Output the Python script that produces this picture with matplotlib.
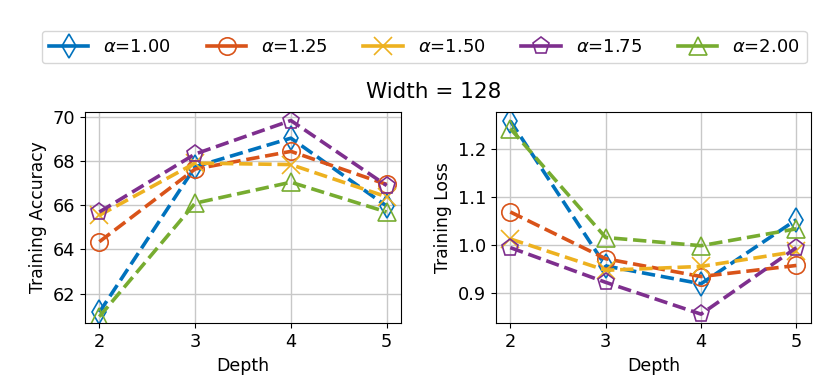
import matplotlib
matplotlib.use("Agg")
import matplotlib.pyplot as plt
from matplotlib.lines import Line2D

depth = [2, 3, 4, 5]
alphas = ["1.00", "1.25", "1.50", "1.75", "2.00"]
colors = ["#0072BD", "#D95319", "#EDB120", "#7E2F8E", "#77AC30"]
markers = ["d", "o", "x", "p", "^"]

acc_100 = [61.15, 67.75, 69.05, 65.97]
acc_125 = [64.35, 67.65, 68.45, 66.95]
acc_150 = [65.55, 67.92, 67.85, 66.39]
acc_175 = [65.7, 68.33, 69.85, 66.9]
acc_200 = [60.95, 66.1, 67.05, 65.7]

loss_100 = [1.258, 0.957, 0.92, 1.053]
loss_125 = [1.069, 0.972, 0.935, 0.958]
loss_150 = [1.013, 0.948, 0.956, 0.987]
loss_175 = [0.995, 0.923, 0.857, 0.995]
loss_200 = [1.242, 1.016, 0.999, 1.034]

acc = [acc_100, acc_125, acc_150, acc_175, acc_200]
loss = [loss_100, loss_125, loss_150, loss_175, loss_200]

fig = plt.figure(figsize=(8.22, 3.83), dpi=100)
ax1 = fig.add_axes([85/822, 1-323.3/383, 316/822, (323.3-111.7)/383])
ax2 = fig.add_axes([496/822, 1-323.3/383, 314.7/822, (323.3-111.7)/383])

handles = []
for i in range(5):
    kw = dict(color=colors[i], marker=markers[i], linewidth=2.6,
              markersize=12.5, markerfacecolor="none", markeredgewidth=1.2,
              markeredgecolor=colors[i])
    ax1.plot(depth, acc[i], linestyle="--", dashes=(3.7, 1.6), **kw)
    ax2.plot(depth, loss[i], linestyle="--", dashes=(3.7, 1.6), **kw)
    handles.append(Line2D([], [], linestyle="-", label=r"$\alpha$=" + alphas[i], **kw))

for ax in (ax1, ax2):
    ax.set_xticks(depth)
    ax.set_xlim(1.85, 5.15)
    ax.grid(True, color="#c8c8c8", linewidth=1.0)
    ax.set_axisbelow(True)
    ax.tick_params(labelsize=12.8)
    ax.set_xlabel("Depth", fontsize=12.5)

ax1.set_ylim(60.65, 70.25)
ax1.set_yticks([62, 64, 66, 68, 70])
ax1.set_ylabel("Training Accuracy", fontsize=12.3)
ax2.set_ylim(0.838, 1.277)
ax2.set_yticks([0.9, 1.0, 1.1, 1.2])
ax2.set_ylabel("Training Loss", fontsize=12.3)

fig.text(0.528, 1-92/383, "Width = 128", ha="center", va="center", fontsize=15.5)
fig.legend(handles=handles, loc="center", bbox_to_anchor=(0.516, 1-47/383),
           ncol=5, fontsize=13, frameon=True, columnspacing=2.0, handlelength=2.2)

fig.savefig("out.png", dpi=100)
